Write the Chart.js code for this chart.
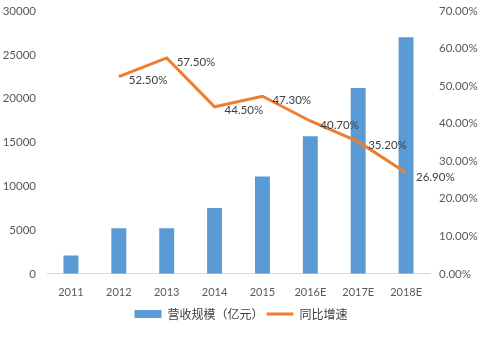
<!DOCTYPE html>
<html>
<head>
<meta charset="utf-8">
<script src="https://cdn.jsdelivr.net/npm/chart.js@4.4.1/dist/chart.umd.min.js"></script>
<style>
  html, body { margin: 0; padding: 0; background: #fff; }
  #wrap { width: 483px; height: 340px; }
</style>
</head>
<body>
<div id="wrap"><canvas id="revChart" width="483" height="340"></canvas></div>
<script>
const years = ['2011', '2012', '2013', '2014', '2015', '2016E', '2017E', '2018E'];
const revenue = [2100, 5200, 5200, 7500, 11100, 15700, 21200, 27000];
const growth = [null, 0.525, 0.575, 0.445, 0.473, 0.407, 0.352, 0.269];

const FONT = "'Microsoft YaHei', 'Noto Sans CJK SC', 'DejaVu Sans', sans-serif";
const NUM_FONT = "Lato, 'DejaVu Sans', sans-serif";

// percent labels to the right of each line point
const growthLabels = {
  id: 'growthLabels',
  afterDatasetsDraw(chart) {
    const meta = chart.getDatasetMeta(1);
    const ctx = chart.ctx;
    ctx.save();
    ctx.font = '11.5px ' + NUM_FONT;
    ctx.fillStyle = '#404040';
    ctx.textAlign = 'left';
    ctx.textBaseline = 'middle';
    meta.data.forEach((pt, i) => {
      if (growth[i] == null) return;
      ctx.fillText((growth[i] * 100).toFixed(2) + '%', pt.x + 10, pt.y + 4);
    });
    ctx.restore();
  }
};

let ctx = document.getElementById('revChart').getContext('2d');
let revChart = new Chart(ctx, {
  data: {
    labels: years,
    datasets: [{
      type: 'bar',
      label: '营收规模（亿元）',
      data: revenue,
      backgroundColor: '#5B9BD5',
      yAxisID: 'y',
      categoryPercentage: 0.6,
      barPercentage: 0.52,
      order: 2
    }, {
      type: 'line',
      label: '同比增速',
      data: growth,
      borderColor: '#ED7D31',
      backgroundColor: '#ED7D31',
      borderWidth: 3,
      pointRadius: 0,
      tension: 0,
      yAxisID: 'y1',
      order: 1
    }]
  },
  options: {
    responsive: false,
    animation: false,
    layout: { autoPadding: false, padding: { top: 5, left: 3, right: 4, bottom: 10 } },
    plugins: {
      legend: {
        position: 'bottom',
        labels: {
          font: { size: 12, family: FONT },
          color: '#404040',
          usePointStyle: true,
          pointStyleWidth: 27,
          boxHeight: 8,
          padding: 3,
          generateLabels(chart) {
            const items = Chart.defaults.plugins.legend.labels.generateLabels(chart);
            items.sort((a, b) => a.datasetIndex - b.datasetIndex);
            items.forEach(it => {
              it.pointStyle = it.datasetIndex === 0 ? 'rect' : 'line';
            });
            return items;
          }
        }
      },
      tooltip: { enabled: false }
    },
    scales: {
      x: {
        grid: { display: false, drawTicks: false },
        border: { color: '#D9D9D9' },
        ticks: { color: '#595959', font: { size: 11, family: NUM_FONT }, padding: 12 },
        afterFit: s => { s.height -= 6; }
      },
      y: {
        position: 'left',
        min: 0,
        max: 30000,
        grid: { display: false, drawTicks: false },
        border: { display: false },
        ticks: {
          stepSize: 5000,
          color: '#595959',
          font: { size: 11.5, family: NUM_FONT },
          padding: 11,
          callback: v => String(v)
        },
        afterFit: s => { s.width = 44; s.paddingTop = 11; }
      },
      y1: {
        position: 'right',
        min: 0,
        max: 0.7,
        grid: { display: false, drawTicks: false },
        border: { display: false },
        ticks: {
          stepSize: 0.1,
          color: '#595959',
          font: { size: 11.5, family: NUM_FONT },
          padding: 9,
          callback: v => (v * 100).toFixed(2) + '%'
        },
        afterFit: s => { s.width = 49; s.paddingTop = 11; }
      }
    }
  },
  plugins: [growthLabels]
});
</script>
</body>
</html>
